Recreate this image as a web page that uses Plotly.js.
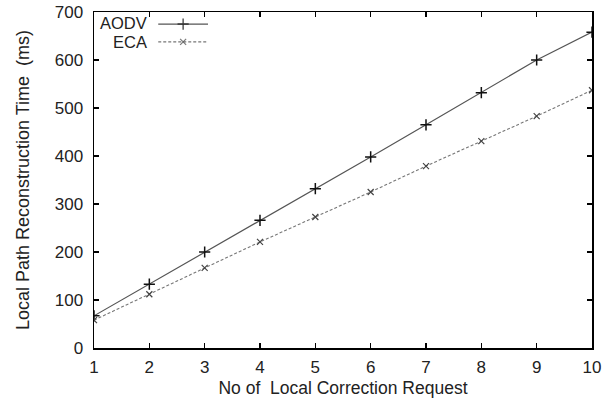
<!DOCTYPE html>
<html><head><meta charset="utf-8">
<script src="https://cdn.plot.ly/plotly-3.0.1.min.js"></script>
<style>html,body{margin:0;padding:0;background:#fff}</style>
</head><body><div id="chart" style="width:602px;height:403px"></div>
<script>
const requests = [1,2,3,4,5,6,7,8,9,10];
const aodv = [67,133,200,266,332,398,465,532,600,658];
const eca = [58,112,167,221,273,325,379,431,483,537];
const xTicks = [1,2,3,4,5,6,7,8,9,10];
const yTicks = [0,100,200,300,400,500,600,700];
const seriesNames = ['AODV', 'ECA'];

const FONT = 'Liberation Sans, Arial, sans-serif';
const aodvLine = {color: '#555', width: 1.2};
const ecaLine = {color: '#777', width: 1.1, dash: '3px,2px'};
const aodvMarker = {symbol: 'cross-thin', size: 8, line: {color: '#111', width: 1.5}};
const ecaMarker = {symbol: 'x-thin', size: 6, line: {color: '#444', width: 1.2}};

// legend key geometry (overlay units 0..1, not data)
const keyX = [0.129, 0.179, 0.229];
const keyY = [0.964, 0.911];
const labelY = [0.967, 0.911];

const traces = [
  {x: requests, y: aodv, name: seriesNames[0], type: 'scatter', mode: 'lines+markers', line: aodvLine, marker: aodvMarker},
  {x: requests, y: eca, name: seriesNames[1], type: 'scatter', mode: 'lines+markers', line: ecaLine, marker: ecaMarker},
  {x: keyX, y: keyX.map(() => keyY[0]), xaxis: 'x2', yaxis: 'y2', type: 'scatter', mode: 'lines+markers', hoverinfo: 'skip',
   line: aodvLine, marker: Object.assign({}, aodvMarker, {size: [0, 8, 0]})},
  {x: keyX, y: keyX.map(() => keyY[1]), xaxis: 'x2', yaxis: 'y2', type: 'scatter', mode: 'lines+markers', hoverinfo: 'skip',
   line: ecaLine, marker: Object.assign({}, ecaMarker, {size: [0, 6, 0]})}
];
const axisCommon = {showgrid: false, zeroline: false, showline: true, mirror: 'ticks', linecolor: '#000', linewidth: 1.5,
  ticks: 'inside', ticklen: 5, tickwidth: 1.3, tickcolor: '#000', ticklabelstandoff: 6,
  tickfont: {family: FONT, size: 17, color: '#222'}};
const layout = {
  width: 602, height: 403,
  margin: {l: 94, r: 10, t: 12, b: 55},
  paper_bgcolor: '#fff', plot_bgcolor: '#fff',
  showlegend: false,
  xaxis: Object.assign({}, axisCommon, {range: [1, 10], tickvals: xTicks, ticklabelstandoff: 3,
    title: {text: 'No of  Local Correction Request', standoff: 6, font: {family: FONT, size: 17.5, color: '#222'}}}),
  yaxis: Object.assign({}, axisCommon, {range: [0, 700], tickvals: yTicks,
    title: {text: 'Local Path Reconstruction Time  (ms)', standoff: 20, font: {family: FONT, size: 18, color: '#222'}}}),
  xaxis2: {overlaying: 'x', range: [0, 1], visible: false, fixedrange: true},
  yaxis2: {overlaying: 'y', range: [0, 1], visible: false, fixedrange: true},
  annotations: seriesNames.map((n, i) => ({text: n, xref: 'x2', yref: 'y2', x: 0.108, y: labelY[i],
    xanchor: 'right', yanchor: 'middle', showarrow: false, borderpad: 0, font: {family: FONT, size: 16.5, color: '#222'}}))
};
Plotly.newPlot('chart', traces, layout, {displayModeBar: false, staticPlot: true});
</script></body></html>
